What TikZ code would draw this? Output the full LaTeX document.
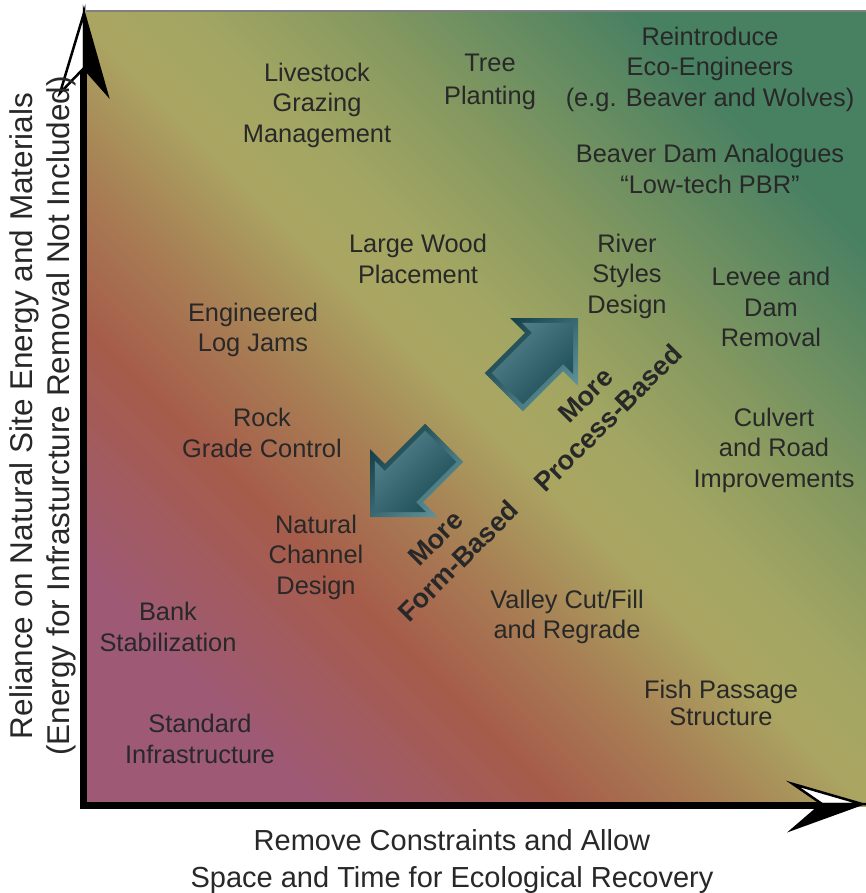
\documentclass[tikz,border=0pt]{standalone}
\usepackage{fontspec}
\setmainfont{Liberation Sans}
\definecolor{c0}{RGB}{158,90,117}
\definecolor{c1}{RGB}{166,92,74}
\definecolor{c2}{RGB}{168,126,84}
\definecolor{c3}{RGB}{170,166,98}
\definecolor{c35}{RGB}{162,166,98}
\definecolor{c4}{RGB}{136,154,96}
\definecolor{c5}{RGB}{72,128,98}
\definecolor{txt}{RGB}{40,40,40}
\definecolor{tlight}{RGB}{84,130,140}
\definecolor{tdark}{RGB}{28,76,86}
\definecolor{tbevl}{RGB}{96,146,154}
\definecolor{tbevd}{RGB}{22,64,72}
\pgfdeclarehorizontalshading{bgshade}{100bp}{color(0bp)=(c0); color(25bp)=(c0); color(36bp)=(c1); color(43bp)=(c2); color(50bp)=(c3); color(55bp)=(c35); color(62bp)=(c4); color(75bp)=(c5); color(100bp)=(c5)}
\pgfdeclarehorizontalshading{tealin}{100bp}{color(0bp)=(tlight); color(25bp)=(tlight); color(75bp)=(tdark); color(100bp)=(tdark)}
\pgfdeclarehorizontalshading{tealout}{100bp}{color(0bp)=(tbevd); color(25bp)=(tbevd); color(75bp)=(tbevl); color(100bp)=(tbevl)}
\begin{document}
\begin{tikzpicture}[x=1pt,y=-1pt,
  lbl/.style={font=\fontsize{25.4}{30.5}\selectfont, text=txt, align=center, inner sep=0pt},
  axlbl/.style={font=\fontsize{29}{37}\selectfont, text=txt, align=center, inner sep=0pt},
  bold/.style={font=\bfseries\fontsize{27}{32}\selectfont, text=txt, align=center, inner sep=0pt, rotate=45},
  axisline/.style={line width=7.5pt, black},
  headwhite/.style={fill=white, draw=black, line width=2.5pt, line join=miter},
  headblack/.style={fill=black, draw=black, line width=2.5pt, line join=miter}]
\useasboundingbox (0,0) rectangle (866,893);
\fill[white] (0,0) rectangle (866,893);
% background
\shade[shading=bgshade, shading angle=45] (86,11) rectangle (866,806);
\draw[gray, line width=1.5pt] (86,11) -- (866,11);

% axes
\coordinate (origin) at (83.5,805.5);
\coordinate (yend) at (83.5,70);
\coordinate (xend) at (822,805.5);
\draw[axisline] (83.5,809) -- (yend);
\draw[axisline] (80,805.5) -- (xend);
\draw[headwhite] (84,13) -- (60,93) -- (84,68) -- cycle;
\draw[headblack] (84,13) -- (107,94) -- (84,68) -- cycle;
\draw[headwhite] (862,804) -- (793,784) -- (822,804) -- cycle;
\draw[headblack] (862,804) -- (793,829) -- (822,804) -- cycle;

% teal arrows
\begin{scope}[shift={(578,318)}, rotate=45]
  \shade[shading=tealout, shading angle=-45] (0,0) -- (-48,48) -- (-48,27) -- (-105,27) -- (-105,-27) -- (-48,-27) -- (-48,-48) -- cycle;
  \shade[shading=tealin, shading angle=-45] (-7,0) -- (-43,36) -- (-43,22) -- (-100,22) -- (-100,-22) -- (-43,-22) -- (-43,-36) -- cycle;
\end{scope}
\begin{scope}[shift={(370,517)}, rotate=225]
  \shade[shading=tealout, shading angle=-45] (0,0) -- (-48,48) -- (-48,27) -- (-105,27) -- (-105,-27) -- (-48,-27) -- (-48,-48) -- cycle;
  \shade[shading=tealin, shading angle=-45] (-7,0) -- (-43,36) -- (-43,22) -- (-100,22) -- (-100,-22) -- (-43,-22) -- (-43,-36) -- cycle;
\end{scope}

\node[bold] (process) at (597,407) {More\\Process-Based};
\node[bold] (form) at (447,550) {More\\Form-Based};

% labels
\node[lbl] (livestock) at (317,105) {Livestock\\Grazing\\Management};
\node[lbl] (tree) at (490,82) {Tree\\[2.5pt]Planting};
\node[lbl] (reintro) at (710,69) {Reintroduce\\Eco-Engineers\\(e.g. Beaver and Wolves)};
\node[lbl] (bda) at (710,169) {Beaver Dam Analogues\\“Low-tech PBR”};
\node[lbl] (largewood) at (418,259) {Large Wood\\Placement};
\node[lbl] (riverstyles) at (627,276) {River\\Styles\\Design};
\node[lbl] (levee) at (771,307) {Levee and\\Dam\\Removal};
\node[lbl] (elj) at (253,330) {Engineered\\Log Jams};
\node[lbl] (rock) at (262,433) {Rock\\Grade Control};
\node[lbl] (culvert) at (774,450) {Culvert\\and Road\\Improvements};
\node[lbl] (ncd) at (316,557) {Natural\\Channel\\Design};
\node[lbl] (bank) at (168,627) {Bank\\Stabilization};
\node[lbl] (valley) at (567,617) {Valley Cut/Fill\\and Regrade};
\node[lbl] (fish) at (721,703) {Fish Passage\\[-3.5pt]Structure};
\node[lbl] (standard) at (200,739) {Standard\\Infrastructure};

% axis labels
\node[axlbl] (xlabel) at (452,861) {Remove Constraints and Allow\\Space and Time for Ecological Recovery};
\node[axlbl, rotate=90, font=\fontsize{31.5}{37}\selectfont] (ylabel) at (42.5,416) {Reliance on Natural Site Energy and Materials\\(Energy for Infrasturcture Removal Not Included)};
\end{tikzpicture}
\end{document}
